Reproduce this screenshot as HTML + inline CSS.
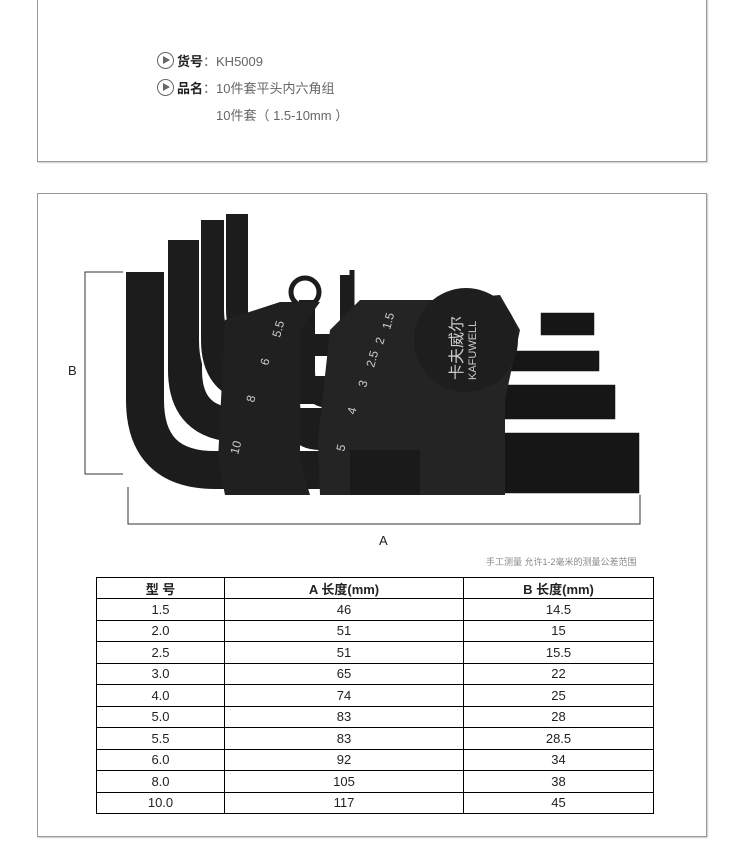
<!DOCTYPE html>
<html><head><meta charset="utf-8"><style>
*{margin:0;padding:0;box-sizing:border-box}
body{width:750px;height:864px;background:#fff;position:relative;overflow:hidden;font-family:"Liberation Sans","Noto Sans CJK SC",sans-serif}
.box{position:absolute;border:1px solid #999;box-shadow:1px 1px 1px #ccc}
.t{position:absolute;font-size:13px;color:#666;white-space:nowrap}
.t b{color:#222}
.ic{display:inline-block;width:17px;height:17px;border:1.5px solid #666;border-radius:50%;vertical-align:-3px;margin-right:3px;position:relative}
.ic:after{content:"";position:absolute;left:5px;top:3px;border-left:7px solid #666;border-top:4px solid transparent;border-bottom:4px solid transparent}
table{position:absolute;left:96px;top:577px;width:558px;border-collapse:collapse;font-size:13px;color:#222}
td{border:1px solid #000;height:21.5px;text-align:center;padding:0}
th{border:1px solid #000;height:21px;font-size:13px;font-weight:bold}
</style></head><body>
<div class="box" style="left:37px;top:-2px;width:670px;height:164px"></div>
<div class="t" style="left:157px;top:51px"><span class="ic"></span><b>货号</b>：KH5009</div>
<div class="t" style="left:157px;top:78px"><span class="ic"></span><b>品名</b>：10件套平头内六角组</div>
<div class="t" style="left:216px;top:105px">10件套（ 1.5-10mm ）</div>
<div class="box" style="left:37px;top:193px;width:670px;height:644px"></div>
<svg style="position:absolute;left:0;top:0" width="750" height="864">
<g fill="none" stroke="#333" stroke-width="1">
<path d="M123 272H85V474H123"/>
<path d="M128 487V524H640V487"/>
</g>
<text x="68" y="375" font-size="13" fill="#222" font-family="Liberation Sans">B</text>
<text x="379" y="545" font-size="13" fill="#222" font-family="Liberation Sans">A</text>
<g fill="#161616" stroke="#fff" stroke-width="1.5">
<rect x="540" y="312" width="55" height="24"/>
<rect x="500" y="350" width="100" height="22"/>
<rect x="480" y="384" width="136" height="36"/>
<rect x="420" y="432" width="220" height="62"/>
</g>
<g fill="none" stroke-linecap="butt">
<path d="M145 272V400Q145 470 215 470H420" stroke="#1c1c1c" stroke-width="38"/>
<path d="M185 240V370Q185 425 240 425H420" stroke="#fff" stroke-width="38"/>
<path d="M185 240V370Q185 425 240 425H420" stroke="#1c1c1c" stroke-width="34"/>
<path d="M215 220V340Q215 390 265 390H420" stroke="#fff" stroke-width="32"/>
<path d="M215 220V340Q215 390 265 390H420" stroke="#1c1c1c" stroke-width="28"/>
<path d="M237 214V310Q237 345 275 345H420" stroke="#fff" stroke-width="26"/>
<path d="M237 214V310Q237 345 275 345H420" stroke="#1c1c1c" stroke-width="22"/>
<path d="M290 315V400Q290 440 320 440" stroke="#1c1c1c" stroke-width="20"/>
<path d="M307 300V370Q307 400 330 400" stroke="#1c1c1c" stroke-width="16"/>
<path d="M345 275V330Q345 350 360 350" stroke="#1c1c1c" stroke-width="10"/>
<path d="M352 270V320" stroke="#1c1c1c" stroke-width="5"/>
</g>
<circle cx="305" cy="292" r="14" fill="none" stroke="#1c1c1c" stroke-width="5"/>
<path d="M225 320L280 302L320 302L300 330L300 460L310 495L225 495L218 460Z" fill="#202020"/>
<path d="M330 330L360 300L440 300L500 295L520 330L505 400L505 495L320 495L318 440Z" fill="#242424"/>
<circle cx="466" cy="340" r="52" fill="#1e1e1e"/>
<rect x="350" y="450" width="70" height="45" fill="#1a1a1a"/>
<g fill="#ccc" font-size="12" font-family="Liberation Sans">
<text transform="translate(238,455) rotate(-75)">10</text>
<text transform="translate(254,403) rotate(-75)">8</text>
<text transform="translate(268,366) rotate(-75)">6</text>
<text transform="translate(280,338) rotate(-75)">5.5</text>
<text transform="translate(344,452) rotate(-75)">5</text>
<text transform="translate(355,415) rotate(-75)">4</text>
<text transform="translate(366,388) rotate(-75)">3</text>
<text transform="translate(374,368) rotate(-75)">2.5</text>
<text transform="translate(383,345) rotate(-75)">2</text>
<text transform="translate(390,330) rotate(-75)">1.5</text>
<text transform="translate(462,380) rotate(-90)" font-size="16" font-family="Noto Sans CJK SC">卡夫威尔</text>
<text transform="translate(476,380) rotate(-90)" font-size="11">KAFUWELL</text>
</g>
<text x="486" y="565" font-size="9" fill="#888" font-family="Liberation Sans, Noto Sans CJK SC, sans-serif">手工测量 允许1-2毫米的测量公差范围</text>
</svg>
<table>
<tr><th style="width:128px">型 号</th><th style="width:239px">A 长度(mm)</th><th>B 长度(mm)</th></tr>
<tr><td>1.5</td><td>46</td><td>14.5</td></tr>
<tr><td>2.0</td><td>51</td><td>15</td></tr>
<tr><td>2.5</td><td>51</td><td>15.5</td></tr>
<tr><td>3.0</td><td>65</td><td>22</td></tr>
<tr><td>4.0</td><td>74</td><td>25</td></tr>
<tr><td>5.0</td><td>83</td><td>28</td></tr>
<tr><td>5.5</td><td>83</td><td>28.5</td></tr>
<tr><td>6.0</td><td>92</td><td>34</td></tr>
<tr><td>8.0</td><td>105</td><td>38</td></tr>
<tr><td>10.0</td><td>117</td><td>45</td></tr>
</table>
</body></html>
